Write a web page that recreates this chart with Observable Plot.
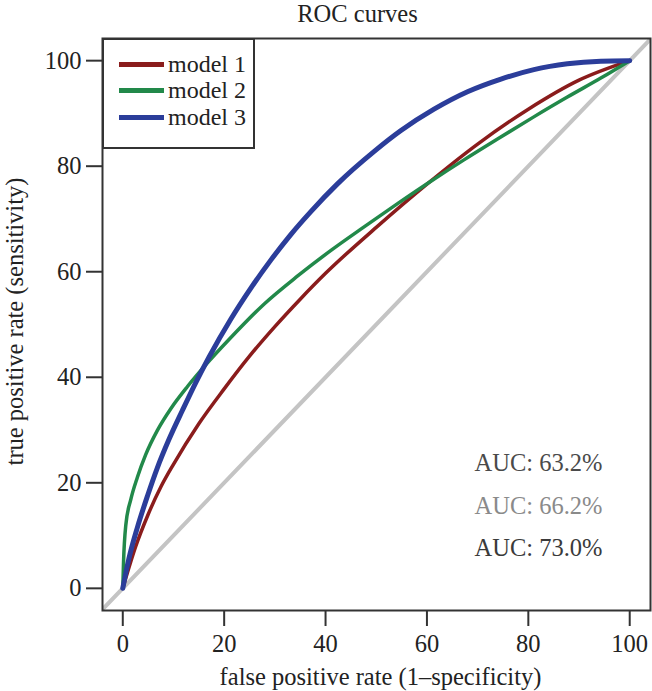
<!DOCTYPE html>
<html>
<head>
<meta charset="utf-8">
<script src="https://cdn.jsdelivr.net/npm/d3@7"></script>
<script src="https://cdn.jsdelivr.net/npm/@observablehq/plot@0.6"></script>
<style>
  html, body { margin: 0; padding: 0; background: #fff; }
  #wrap { position: relative; width: 652px; height: 691px; font-family: "Liberation Serif", "Times New Roman", serif; }
  #legend { position: absolute; box-sizing: border-box; border: 2px solid #333; background: #fff; }
  .row { position: absolute; display: flex; align-items: center; font-size: 24px; color: #222; white-space: nowrap; }
  .swatch { display: inline-block; width: 45px; height: 5px; margin-right: 4px; }
</style>
</head>
<body>
<div id="wrap"></div>
<script>
// ---- data ----
const modelNames = ["model 1", "model 2", "model 3"];
const modelColors = ["#8a1c1c", "#22894a", "#2b3d9a"];

const fpr1 = [0, 2.5, 5, 7.5, 10, 15, 20, 25, 30, 35, 40, 50, 60, 70, 80, 90, 100];
const tpr1 = [0, 7.8, 14, 19.2, 23.5, 31.2, 37.8, 44, 49.6, 54.8, 59.7, 68.4, 76.6, 84.2, 90.8, 96.3, 100];

const fpr2 = [0, 0.15, 0.6, 1.6, 2.9, 4.5, 6.8, 9.5, 12.8, 16.4, 21, 27.9, 34.5, 41, 47.6, 54.2, 60.7, 67.3, 74, 81, 87.7, 94.3, 100];
const tpr2 = [0, 5, 12, 16.9, 21.1, 25.3, 29.9, 34.1, 38.3, 42.4, 47.2, 53.9, 59.2, 64, 68.5, 72.9, 77.1, 81.2, 85.2, 89.3, 93.1, 96.7, 100];

const fpr3 = [0, 1.2, 2.9, 4.9, 6.8, 9.1, 11.8, 14.4, 17, 21.3, 25.2, 29.2, 33.1, 37.1, 42.3, 49.6, 54.8, 61.4, 68, 74.6, 81.1, 87.7, 94.3, 100];
const tpr3 = [0, 5.6, 11.6, 17.6, 22.8, 28.2, 33.8, 39, 43.8, 51, 56.8, 62.2, 67, 71.4, 76.6, 82.8, 86.7, 90.8, 94.1, 96.5, 98.3, 99.4, 99.9, 100];

const aucLabels = ["AUC: 63.2%", "AUC: 66.2%", "AUC: 73.0%"];
const aucColors = ["#4a4a4a", "#8a8a8a", "#3a3a3a"];

const xTicks = [0, 20, 40, 60, 80, 100];
const yTicks = [0, 20, 40, 60, 80, 100];
const chance = [-10, 110];

const titleText = "ROC curves";
const xLabel = "false positive rate (1\u2013specificity)";
const yLabel = "true positive rate (sensitivity)";

// ---- build ----
const series = [[fpr1, tpr1], [fpr2, tpr2], [fpr3, tpr3]].map(([xs, ys], k) =>
  xs.map((x, i) => ({model: modelNames[k], fpr: x, tpr: ys[i]})));
const widths = [3.5, 3.5, 5];

const font = '"Liberation Serif", "Times New Roman", serif';
const fs = 24.5;

const plot = Plot.plot({
  width: 652,
  height: 691,
  marginLeft: 102,
  marginRight: 2,
  marginTop: 38,
  marginBottom: 81,
  style: {fontFamily: font, fontSize: fs + "px", background: "#fff", color: "#222"},
  x: {domain: [-4, 104.1]},
  y: {domain: [-4.2, 104.2]},
  marks: [
    Plot.line(chance, {x: d => d, y: d => d, stroke: "#c4c4c4", strokeWidth: 4, clip: true}),
    ...series.map((s, k) => Plot.line(s, {x: "fpr", y: "tpr", stroke: modelColors[k], strokeWidth: widths[k], curve: "monotone-x", strokeLinecap: "round"})),
    Plot.frame({stroke: "#333", strokeWidth: 2}),
    Plot.axisX({ticks: xTicks, tickSize: 16, tickPadding: 8, stroke: "#333", strokeWidth: 2, fontSize: fs, label: null, tickFormat: d => d}),
    Plot.axisY({ticks: yTicks, tickSize: 16, tickPadding: 5, stroke: "#333", strokeWidth: 2, fontSize: fs, label: null, tickFormat: d => d}),
    ...aucLabels.map((t, i) => Plot.text([t], {frameAnchor: "bottom-right", text: d => d, dx: -48, dy: -147 + 42.5 * i, fill: aucColors[i], fontSize: fs, textAnchor: "end", lineAnchor: "middle"})),
    Plot.text([titleText], {frameAnchor: "top", text: d => d, dy: -24, dx: -19, fontSize: fs, fill: "#222", textAnchor: "middle", lineAnchor: "middle"}),
    Plot.text([xLabel], {frameAnchor: "bottom", text: d => d, dy: 67, dx: 4, fontSize: fs, fill: "#222", textAnchor: "middle", lineAnchor: "middle"}),
    Plot.text([yLabel], {frameAnchor: "left", text: d => d, dx: -87, dy: -3, rotate: -90, fontSize: fs, fill: "#222", textAnchor: "middle", lineAnchor: "middle"})
  ]
});

const wrap = document.getElementById("wrap");
wrap.appendChild(plot);

// legend overlay inside the frame's top-left corner
const legend = document.createElement("div");
legend.id = "legend";
Object.assign(legend.style, {left: "102px", top: "38px", width: "153px", height: "111px"});
modelNames.forEach((name, i) => {
  const row = document.createElement("div");
  row.className = "row";
  Object.assign(row.style, {left: "15px", top: (11 + 26.5 * i) + "px", height: "26px"});
  const sw = document.createElement("span");
  sw.className = "swatch";
  sw.style.background = modelColors[i];
  const lab = document.createElement("span");
  lab.textContent = name;
  row.appendChild(sw);
  row.appendChild(lab);
  legend.appendChild(row);
});
wrap.appendChild(legend);
</script>
</body>
</html>
